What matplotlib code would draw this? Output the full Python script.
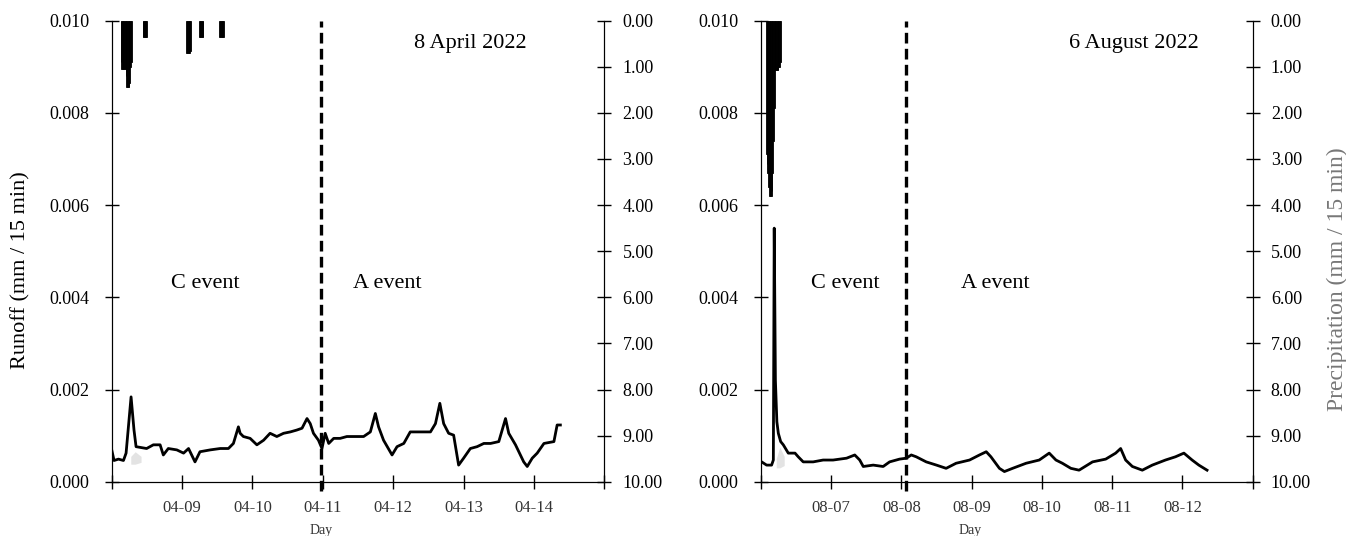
import matplotlib.pyplot as plt
import matplotlib.dates as mdates
import numpy as np
import pandas as pd

plt.rcParams['font.family'] = ['Liberation Serif', 'DejaVu Serif']

# ---- April event (hours after 2022-04-08 00:00, runoff in 1e-3 mm / 15 min)
apr_start = '2022-04-08'
apr_run_h = [0.0, 0.8, 2.3, 4.0, 4.9, 6.6, 7.6, 8.3, 11.9, 14.2, 16.5, 17.6, 19.3, 22.2,
             24.5, 26.2, 28.4, 30.1, 33.6, 37.0, 39.8, 41.5, 43.2, 43.8, 44.9, 47.2, 49.5,
             51.8, 54.0, 56.3, 58.6, 60.9, 63.1, 64.9, 66.6, 67.7, 68.8, 70.5, 71.7, 72.8,
             74.0, 75.7, 77.9, 80.2, 82.5, 85.9, 88.2, 89.9, 91.0, 92.7, 95.6, 97.3, 99.6,
             101.8, 105.3, 108.7, 110.4, 111.9, 113.2, 114.9, 116.6, 118.3, 120.0, 122.3,
             124.6, 126.9, 129.2, 132.0, 134.3, 135.4, 137.7, 140.5, 141.7, 143.4, 145.1,
             147.4, 150.8, 151.9, 153.0]
apr_run_v = [0.69, 0.46, 0.49, 0.46, 0.62, 1.84, 1.12, 0.76, 0.72, 0.80, 0.80, 0.58, 0.72, 0.69,
             0.62, 0.72, 0.43, 0.65, 0.69, 0.72, 0.72, 0.83, 1.19, 1.05, 0.98, 0.94, 0.80,
             0.90, 1.05, 0.98, 1.05, 1.08, 1.12, 1.16, 1.37, 1.26, 1.05, 0.90, 0.72, 1.05,
             0.83, 0.94, 0.94, 0.98, 0.98, 0.98, 1.08, 1.48, 1.19, 0.90, 0.58, 0.76, 0.83,
             1.08, 1.08, 1.08, 1.26, 1.70, 1.26, 1.05, 1.01, 0.36, 0.51, 0.72,
             0.76, 0.83, 0.83, 0.87, 1.37, 1.05, 0.80, 0.43, 0.33, 0.51, 0.62,
             0.83, 0.87, 1.23, 1.23]
apr_rain_h = [3.0, 3.25, 3.5, 3.75, 4.0, 4.25, 4.5, 4.75, 5.0, 5.25, 5.5, 5.75, 6.0, 6.25, 6.5,
              10.5, 10.75, 11.0, 11.25, 11.5, 11.75,
              25.5, 25.75, 26.0, 26.25, 26.5, 26.75,
              29.75, 30.0, 30.25, 30.5, 30.75, 31.0,
              36.75, 37.0, 37.25, 37.5, 37.75, 38.0]
apr_rain_mm = [0.9, 1.04, 1.04, 1.04, 1.04, 1.04, 1.04, 1.2, 1.43, 1.43, 1.43, 1.43, 1.35, 1.0, 0.9,
               0.36, 0.36, 0.36, 0.36, 0.36, 0.36,
               0.70, 0.71, 0.71, 0.71, 0.71, 0.65,
               0.36, 0.36, 0.36, 0.36, 0.36, 0.36,
               0.36, 0.36, 0.36, 0.36, 0.36, 0.36]
apr_grey_h = [6.5, 8.0, 10.0]
apr_grey_lo = [0.38, 0.38, 0.42]
apr_grey_hi = [0.55, 0.65, 0.55]
apr_split_h = 71.3

# ---- August event (hours after 2022-08-06 00:00)
aug_start = '2022-08-06'
aug_run_h = [0.3, 2.0, 3.7, 4.3, 4.6, 5.0, 5.5, 6.0, 6.8, 7.7, 9.4, 11.7, 12.8, 14.5, 17.9,
             21.3, 24.7, 29.3, 32.1, 33.8, 35.0, 38.4, 41.8, 44.0, 47.4, 49.7, 51.4, 53.1,
             56.5, 60.0, 63.3, 66.7, 71.3, 74.7, 77.0, 78.6, 81.5, 83.2, 86.0, 90.6, 95.1,
             98.5, 100.8, 103.0, 105.9, 108.7, 113.3, 117.8, 121.2, 122.9, 124.6, 126.9,
             130.3, 133.7, 138.2, 141.6, 144.5, 147.3, 149.6, 152.4]
aug_run_v = [0.43, 0.36, 0.36, 0.47, 5.5, 2.2, 1.3, 1.05, 0.87, 0.80, 0.62, 0.62, 0.54, 0.43, 0.43,
             0.47, 0.47, 0.51, 0.58, 0.47, 0.33, 0.36, 0.33, 0.43, 0.49, 0.51, 0.58, 0.54,
             0.43, 0.36, 0.29, 0.40, 0.47, 0.58, 0.65, 0.54, 0.29, 0.22, 0.29, 0.40, 0.47,
             0.62, 0.47, 0.40, 0.29, 0.25, 0.43, 0.49, 0.62, 0.72, 0.47, 0.33,
             0.25, 0.36, 0.47, 0.54, 0.62, 0.47, 0.36, 0.25]
aug_rain_h = [1.75, 2.0, 2.25, 2.5, 2.75, 3.0, 3.25, 3.5, 3.75, 4.0, 4.25, 4.5,
              4.75, 5.0, 5.25, 5.5, 5.75, 6.0, 6.25, 6.5]
aug_rain_mm = [2.9, 3.1, 3.3, 3.6, 3.8, 3.8, 3.8, 3.8, 3.7, 3.3, 2.6, 1.9,
               1.06, 1.06, 1.06, 1.06, 1.06, 1.0, 1.0, 0.9]
aug_grey_h = [5.3, 6.5, 8.0]
aug_grey_lo = [0.30, 0.30, 0.35]
aug_grey_hi = [0.50, 0.75, 0.55]
aug_split_h = 49.7


def draw_panel(ax, start, run_h, run_v, rain_h, rain_mm, grey_h, grey_lo, grey_hi,
               split_h, title, title_x):
    t0 = mdates.date2num(pd.Timestamp(start))
    hrs = lambda h: t0 + np.asarray(h) / 24.0

    ax.fill_between(hrs(grey_h), np.array(grey_lo) * 1e-3, np.array(grey_hi) * 1e-3,
                    color='#e3e3e3', lw=0, zorder=1)
    ax.plot(hrs(run_h), np.array(run_v) * 1e-3, color='black', lw=2.0, zorder=3)
    xs = hrs(split_h)
    ax.plot([xs, xs], [-0.0002, 0.010], color='black', lw=2.4,
            ls=(0, (3.2, 1.6)), clip_on=False, zorder=4)

    ax.set_xlim(t0, t0 + 7)
    ax.set_ylim(0, 0.010)
    days = t0 + np.arange(0, 8)
    ax.set_xticks(days)
    labels = [mdates.num2date(d).strftime('%m-%d') for d in days]
    labels[0] = ''
    labels[-1] = ''
    ax.set_xticklabels(labels)
    ax.set_yticks(np.arange(0, 0.0101, 0.002))
    ax.set_yticklabels(['%.3f' % v for v in np.arange(0, 0.0101, 0.002)])
    ax.tick_params(axis='y', direction='inout', length=10, width=1, labelsize=13, pad=11)
    ax.tick_params(axis='x', direction='inout', length=10, width=1, labelsize=12, pad=8,
                   labelcolor='#333333')
    ax.spines['top'].set_visible(False)
    ax.set_xlabel('Day', fontsize=10, color='#333333')
    ax.xaxis.set_label_coords(0.425, -0.092)

    axr = ax.twinx()
    axr.bar(hrs(rain_h), rain_mm, width=0.25 / 24, align='edge', color='black',
            edgecolor='black', lw=0.6, zorder=2)
    axr.set_ylim(10, 0)
    axr.set_yticks(np.arange(0, 11, 1))
    axr.set_yticklabels(['%.2f' % v for v in range(11)])
    axr.tick_params(axis='y', direction='inout', length=10, width=1, labelsize=13, pad=8)
    axr.spines['top'].set_visible(False)

    ax.text(title_x, 0.95, title, transform=ax.transAxes, ha='center', va='center',
            fontsize=16)
    return axr


fig = plt.figure(figsize=(13.46, 5.36), dpi=100)
ax1 = fig.add_axes([0.083, 0.1013, 0.366, 0.8601])
ax2 = fig.add_axes([0.5652, 0.1013, 0.3655, 0.8601])

draw_panel(ax1, apr_start, apr_run_h, apr_run_v, apr_rain_h, apr_rain_mm,
           apr_grey_h, apr_grey_lo, apr_grey_hi, apr_split_h, '8 April 2022', 0.727)
axr2 = draw_panel(ax2, aug_start, aug_run_h, aug_run_v, aug_rain_h, aug_rain_mm,
                  aug_grey_h, aug_grey_lo, aug_grey_hi, aug_split_h, '6 August 2022', 0.759)

ax1.text(0.189, 0.43, 'C event', transform=ax1.transAxes, ha='center', va='center', fontsize=16)
ax1.text(0.559, 0.43, 'A event', transform=ax1.transAxes, ha='center', va='center', fontsize=16)
ax2.text(0.171, 0.43, 'C event', transform=ax2.transAxes, ha='center', va='center', fontsize=16)
ax2.text(0.476, 0.43, 'A event', transform=ax2.transAxes, ha='center', va='center', fontsize=16)

ax1.set_ylabel('Runoff (mm / 15 min)', fontsize=16)
ax1.yaxis.set_label_coords(-0.165, 0.46)
axr2.set_ylabel('Precipitation (mm / 15 min)', fontsize=17, color='#777777')
axr2.yaxis.set_label_coords(1.15, 0.44)

fig.savefig('out.png', dpi=100)
